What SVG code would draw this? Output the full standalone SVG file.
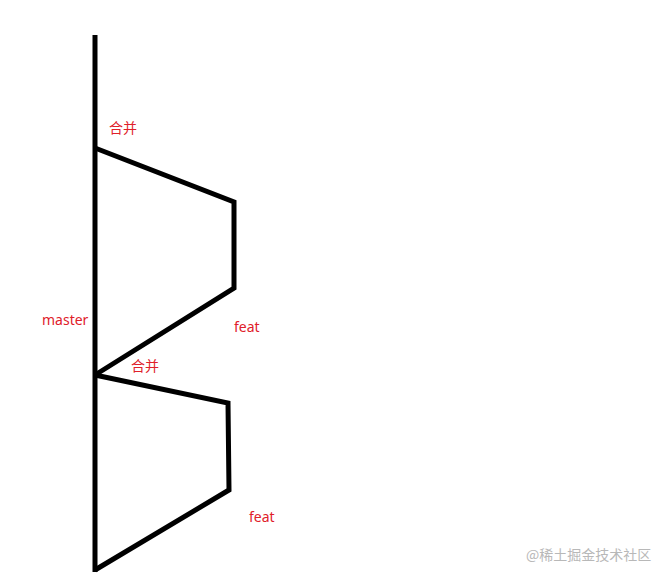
<svg xmlns="http://www.w3.org/2000/svg" width="667" height="581" viewBox="0 0 667 581">
<style>
.ln{fill:none;stroke:#000;stroke-width:5;stroke-linejoin:miter;stroke-linecap:butt}
.lb{font-family:"Noto Sans","Noto Sans CJK SC",sans-serif;font-size:14px;fill:#e0202a}
.wm{font-family:"Noto Sans CJK SC",sans-serif;font-size:14px;fill:#b8b8b8}
</style>
<rect width="667" height="581" fill="#fff"/>
<g id="connectors">
<path class="ln" d="M95,35 V572"/>
<path class="ln" d="M95,148 L234,202 V288 L95,375"/>
<path class="ln" d="M95,375 L228,403 L229,490 L95,570"/>
</g>
<g id="label-merge1"><text class="lb" x="109" y="133">合并</text></g>
<g id="label-master"><text class="lb" x="42" y="325">master</text></g>
<g id="label-feat1"><text class="lb" x="234" y="332">feat</text></g>
<g id="label-merge2"><text class="lb" x="131" y="371">合并</text></g>
<g id="label-feat2"><text class="lb" x="249" y="522">feat</text></g>
<g id="watermark"><text class="wm" x="526" y="560">@稀土掘金技术社区</text></g>
</svg>
